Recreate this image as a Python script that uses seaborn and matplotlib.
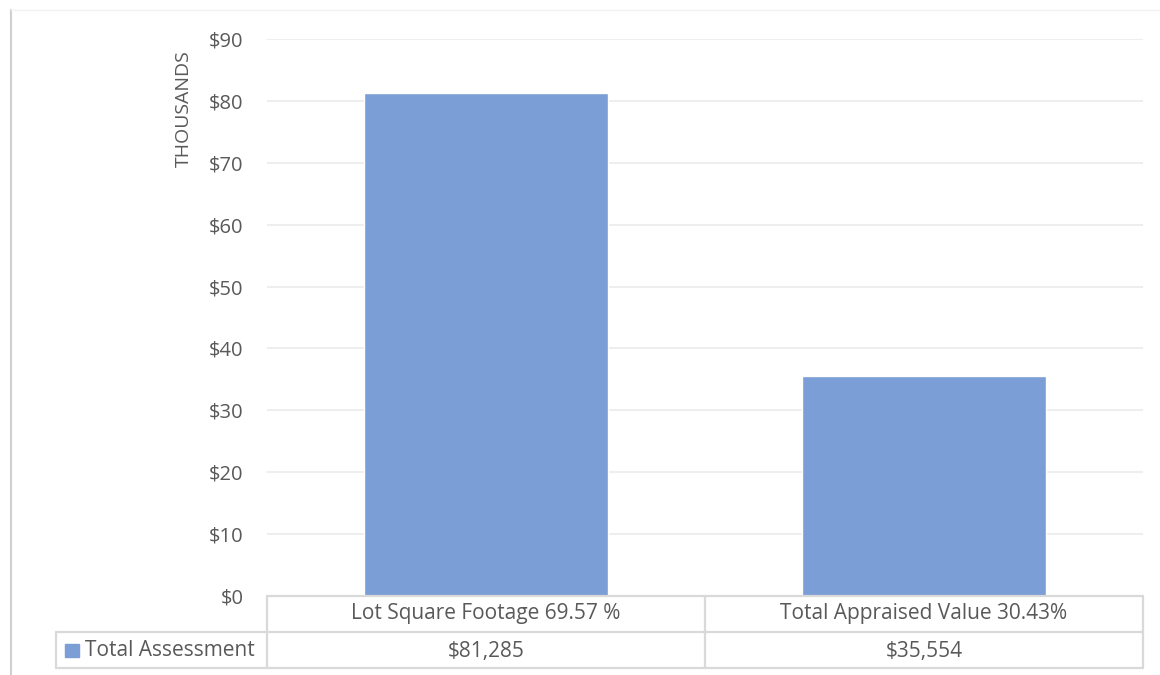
import matplotlib
matplotlib.use("Agg")
import matplotlib.pyplot as plt
import matplotlib.transforms as mtransforms
from matplotlib.lines import Line2D
from matplotlib.patches import Rectangle
import seaborn as sns
import pandas as pd

# Data
categories = ["Lot Square Footage 69.57 %", "Total Appraised Value 30.43%"]
series_name = "Total Assessment"
values = [81285, 35554]
value_labels = ["$81,285", "$35,554"]
yticks = [0, 10, 20, 30, 40, 50, 60, 70, 80, 90]

BAR = "#7B9ED6"
TXT = "#595959"
LINE = "#D9D9D9"
GRID = "#EDEDED"

sns.set_theme(style="white")
plt.rcParams["font.family"] = ["Open Sans", "DejaVu Sans"]

W, H = 1160, 675
fig = plt.figure(figsize=(W / 100, H / 100), dpi=100)


def fx(px):
    return px / W


def fy(py):
    return 1 - py / H


ax = fig.add_axes([fx(267), fy(596), fx(1143) - fx(267), fy(39) - fy(596)])

df = pd.DataFrame({"cat": categories, "val": [v / 1000 for v in values]})
sns.barplot(data=df, x="cat", y="val", color=BAR, saturation=1, width=0.555, ax=ax, zorder=3)

ax.set_ylim(0, 90)
ax.set_xlim(-0.5, 1.5)
ax.set_yticks(yticks)
ax.set_yticklabels([f"${t}" for t in yticks], color=TXT, fontsize=14.5)
ax.tick_params(axis="y", length=0, pad=17)
ax.set_xticks([])
ax.set_xlabel("")
ax.set_ylabel("")
for s in ax.spines.values():
    s.set_visible(False)
ax.yaxis.grid(True, color=GRID, linewidth=1.3, zorder=0)
ax.set_axisbelow(True)

fig.text(fx(184), fy(109), "THOUSANDS", rotation=90, ha="center", va="center",
         color=TXT, fontsize=14)

# chart border
fig.add_artist(Line2D([fx(11), fx(11)], [fy(10), 0], color="#D0D0D0", lw=1.5))
fig.add_artist(Line2D([fx(11), 1], [fy(10), fy(10)], color="#F2F2F2", lw=1))

# data table lines
def hline(y, x0, x1):
    fig.add_artist(Line2D([fx(x0), fx(x1)], [fy(y), fy(y)], color=LINE, lw=1.6))


def vline(x, y0, y1):
    fig.add_artist(Line2D([fx(x), fx(x)], [fy(y0), fy(y1)], color=LINE, lw=1.6))


hline(596, 267, 1143)
hline(632, 56, 1143)
hline(668, 56, 1143)
vline(56, 632, 668)
for x in (267, 705, 1143):
    vline(x, 596, 668)

# table text, x in data units
trans = mtransforms.blended_transform_factory(ax.transData, fig.transFigure)
for i, (c, lab) in enumerate(zip(categories, value_labels)):
    fig.text(i, fy(614), c, transform=trans, ha="center", va="center", color=TXT, fontsize=15)
    fig.text(i, fy(651), lab, transform=trans, ha="center", va="center", color=TXT, fontsize=15)

fig.add_artist(Rectangle((fx(65), fy(657)), fx(79) - fx(65), fy(644) - fy(657),
                         transform=fig.transFigure, color=BAR))
fig.text(fx(85), fy(651), series_name, ha="left", va="center", color=TXT, fontsize=15)

fig.savefig("out.png", dpi=100, facecolor="white")
